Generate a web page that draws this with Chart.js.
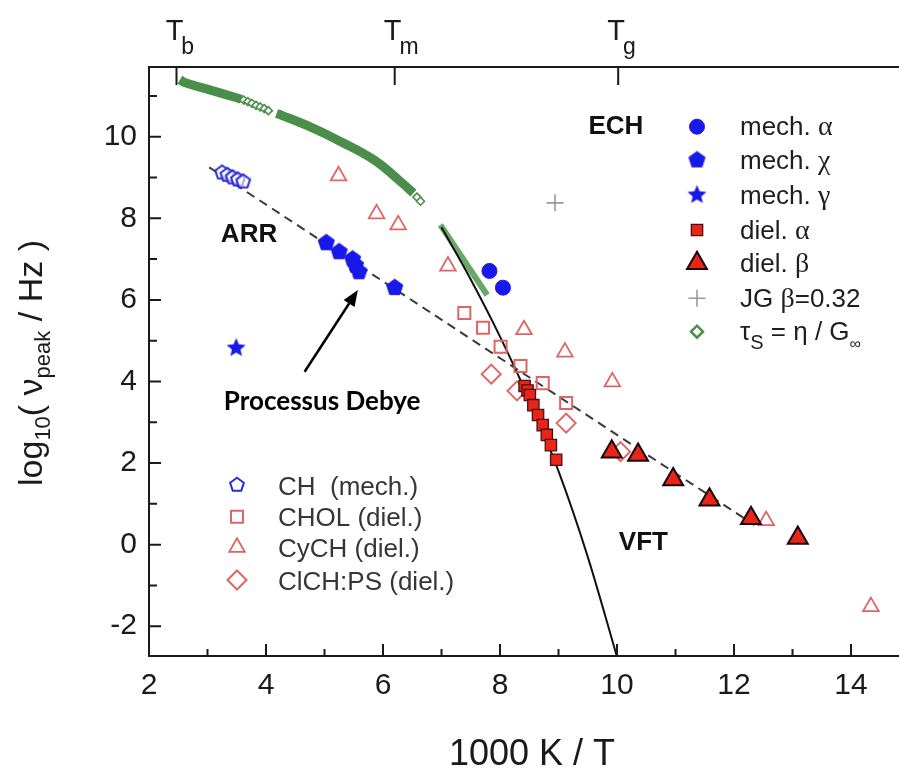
<!DOCTYPE html>
<html>
<head>
<meta charset="utf-8">
<script src="https://cdn.jsdelivr.net/npm/chart.js@4.4.1/dist/chart.umd.min.js"></script>
<style>
  html, body { margin: 0; padding: 0; background: #fff; }
  canvas { display: block; }
</style>
</head>
<body>
<canvas id="grafico" width="899" height="769"></canvas>
<script>
// valores (x = 1000 K / T, y = log10 nu_peak)
const xTicks = [2, 4, 6, 8, 10, 12, 14];
const yTicks = [-2, 0, 2, 4, 6, 8, 10];
const xMinor = [3, 5, 7, 9, 11, 13];
const yMinor = [-1, 1, 3, 5, 7, 9, 11];
const topTicks = [2.47, 6.2, 10.02];
const topLabels = ['b', 'm', 'g'];

const mechAlphaX = [7.82, 8.05];
const mechAlphaY = [6.71, 6.30];
const mechChiX = [5.03, 5.25, 5.48, 5.53, 5.59, 6.20];
const mechChiY = [7.40, 7.18, 7.00, 6.85, 6.69, 6.30];
const mechGammaX = [3.49];
const mechGammaY = [4.82];
const dielAlphaX = [8.42, 8.47, 8.51, 8.57, 8.65, 8.73, 8.80, 8.87, 8.96];
const dielAlphaY = [3.89, 3.78, 3.67, 3.42, 3.18, 2.93, 2.69, 2.44, 2.08];
const dielBetaX = [9.91, 10.36, 10.96, 11.58, 12.29, 13.09];
const dielBetaY = [2.28, 2.20, 1.60, 1.10, 0.65, 0.16];
const jgX = [8.94];
const jgY = [8.38];

const chX = [3.25, 3.34, 3.43, 3.52, 3.61];
const chY = [9.12, 9.06, 9.00, 8.95, 8.90];
const cholX = [7.39, 7.71, 8.01, 8.35, 8.73, 9.13];
const cholY = [5.68, 5.32, 4.85, 4.38, 3.96, 3.47];
const cychX = [5.24, 5.89, 6.26, 7.11, 8.41, 9.11, 9.92, 12.55, 14.34];
const cychY = [9.04, 8.11, 7.84, 6.83, 5.27, 4.72, 3.99, 0.59, -1.52];
const clchX = [7.85, 8.29, 9.13, 10.06];
const clchY = [4.18, 3.77, 2.98, 2.28];

// tau_s = eta / G_inf (banda densa + tramos con marcadores sueltos)
const tauBand1X = [2.53, 2.61, 3.01, 3.30, 3.58];
const tauBand1Y = [11.40, 11.33, 11.16, 11.04, 10.92];
const tauBand2X = [4.18, 4.26, 4.71, 5.28, 5.85, 6.30, 6.52];
const tauBand2Y = [10.57, 10.53, 10.27, 9.88, 9.43, 8.90, 8.62];
const tauBand3X = [6.98, 7.30, 7.78];
const tauBand3Y = [7.84, 7.15, 6.12];
const tauSueltoX = [3.62, 3.69, 3.76, 3.83, 3.90, 3.97, 4.04, 6.58, 6.64];
const tauSueltoY = [10.90, 10.86, 10.82, 10.77, 10.73, 10.69, 10.64, 8.52, 8.42];

// lineas de ajuste
const vftX = [7.0, 7.5, 8.0, 8.5, 9.0, 9.5, 10.01];
const vftY = [7.78, 6.50, 5.10, 3.55, 1.80, -0.30, -2.80];
const arrX = [3.03, 12.35];
const arrY = [9.25, 0.48];

const SANS = '"Liberation Sans", Arial, sans-serif';
const SERIF = '"Liberation Serif", "Times New Roman", serif';
const BLUE = '#1818e8';
const RED = '#ea2418';
const ROSE = '#e06464';
const GREEN = '#4a8e4a';

function pts(xs, ys) {
  return xs.map((x, i) => ({ x: x, y: ys[i] }));
}

function poligono(n, R, inner, fill, stroke, lw) {
  const s = Math.ceil(2 * R + lw + 3);
  const c = document.createElement('canvas');
  c.width = s; c.height = s;
  const g = c.getContext('2d');
  const k = inner ? 2 * n : n;
  g.beginPath();
  for (let i = 0; i < k; i++) {
    const r = inner && i % 2 ? R * inner : R;
    const a = -Math.PI / 2 + i * 2 * Math.PI / k;
    g.lineTo(s / 2 + r * Math.cos(a), s / 2 + r * Math.sin(a));
  }
  g.closePath();
  if (fill) { g.fillStyle = fill; g.fill(); }
  if (stroke) { g.strokeStyle = stroke; g.lineWidth = lw; g.stroke(); }
  return c;
}

const pentLleno = poligono(5, 8.5, 0, BLUE, BLUE, 1);
const pentHueco = poligono(5, 7.2, 0, 'rgba(255,255,255,0.6)', '#2a2ad8', 2);
const estrella = poligono(5, 10, 0.45, BLUE, null, 0);

// estilos de marcador (comunes a datos y leyenda)
const M = {
  mechAlpha: { shape: 'circle', r: 7.5, fill: BLUE, stroke: BLUE, lw: 1 },
  mechChi: { img: pentLleno },
  mechGamma: { img: estrella },
  dielAlpha: { shape: 'rect', r: 8, fill: RED, stroke: '#4a1010', lw: 1.3 },
  dielBeta: { shape: 'triangle', r: 11.5, fill: RED, stroke: '#180808', lw: 2 },
  jg: { shape: 'cross', r: 8.5, fill: null, stroke: '#9a9a9a', lw: 1.6 },
  tau: { shape: 'rectRot', r: 6, fill: '#fff', stroke: GREEN, lw: 2.5 },
  ch: { img: pentHueco },
  chol: { shape: 'rect', r: 8.5, fill: null, stroke: ROSE, lw: 2 },
  cych: { shape: 'triangle', r: 9, fill: null, stroke: ROSE, lw: 1.8 },
  clch: { shape: 'rectRot', r: 9.5, fill: null, stroke: ROSE, lw: 2 }
};

function serie(data, m, order) {
  return {
    data: data,
    order: order,
    showLine: false,
    pointStyle: m.img || m.shape,
    pointRadius: m.img ? 6 : m.r,
    pointHoverRadius: m.img ? 6 : m.r,
    backgroundColor: m.fill || 'rgba(0,0,0,0)',
    borderColor: m.stroke || BLUE,
    borderWidth: m.lw || 0
  };
}

function linea(data, color, width, order, extra) {
  return Object.assign({
    data: data,
    order: order,
    showLine: true,
    pointRadius: 0,
    pointHoverRadius: 0,
    borderColor: color,
    borderWidth: width,
    backgroundColor: color,
    fill: false
  }, extra || {});
}

function marcador(ctx, m, x, y) {
  if (m.img) {
    ctx.drawImage(m.img, x - m.img.width / 2, y - m.img.height / 2);
    return;
  }
  const r = m.r;
  ctx.save();
  ctx.beginPath();
  if (m.shape === 'circle') {
    ctx.arc(x, y, r, 0, 2 * Math.PI);
  } else if (m.shape === 'rect') {
    const h = r * Math.SQRT1_2;
    ctx.rect(x - h, y - h, 2 * h, 2 * h);
  } else if (m.shape === 'triangle') {
    ctx.moveTo(x, y - r);
    ctx.lineTo(x + r * 0.866, y + r * 0.5);
    ctx.lineTo(x - r * 0.866, y + r * 0.5);
    ctx.closePath();
  } else if (m.shape === 'rectRot') {
    ctx.moveTo(x - r, y); ctx.lineTo(x, y - r); ctx.lineTo(x + r, y); ctx.lineTo(x, y + r);
    ctx.closePath();
  } else if (m.shape === 'cross') {
    ctx.moveTo(x, y - r); ctx.lineTo(x, y + r);
    ctx.moveTo(x - r, y); ctx.lineTo(x + r, y);
  }
  if (m.fill) { ctx.fillStyle = m.fill; ctx.fill(); }
  if (m.lw) { ctx.strokeStyle = m.stroke; ctx.lineWidth = m.lw; ctx.stroke(); }
  ctx.restore();
}

function textoRico(ctx, partes, x, y) {
  let cx = x;
  partes.forEach(p => {
    ctx.font = p.f;
    ctx.fillText(p.t, cx, y + (p.dy || 0));
    cx += ctx.measureText(p.t).width;
  });
  return cx - x;
}

function anchoRico(ctx, partes) {
  let w = 0;
  partes.forEach(p => { ctx.font = p.f; w += ctx.measureText(p.t).width; });
  return w;
}

const f26 = '26px ' + SANS;
const g28 = '28px ' + SERIF;
const leyendaDer = [
  { m: M.mechAlpha, y: 126.7, t: [{ t: 'mech. ', f: f26 }, { t: 'α', f: g28 }] },
  { m: M.mechChi, y: 160, t: [{ t: 'mech. ', f: f26 }, { t: 'χ', f: g28 }] },
  { m: M.mechGamma, y: 195, t: [{ t: 'mech. ', f: f26 }, { t: 'γ', f: g28 }] },
  { m: M.dielAlpha, y: 230, t: [{ t: 'diel. ', f: f26 }, { t: 'α', f: g28 }] },
  { m: M.dielBeta, y: 263.3, t: [{ t: 'diel. ', f: f26 }, { t: 'β', f: g28 }] },
  { m: M.jg, y: 298.3, t: [{ t: 'JG ', f: f26 }, { t: 'β', f: g28 }, { t: '=0.32', f: f26 }] },
  { m: M.tau, y: 331.7, t: [{ t: 'τ', f: f26 }, { t: 'S', f: '20px ' + SANS, dy: 9 }, { t: ' = η / G', f: f26 }, { t: '∞', f: '16px ' + SANS, dy: 9 }] }
];
const leyendaIzq = [
  { m: M.ch, y: 485, t: 'CH  (mech.)' },
  { m: M.chol, y: 516.7, t: 'CHOL (diel.)' },
  { m: M.cych, y: 547.3, t: 'CyCH (diel.)' },
  { m: M.clch, y: 580, t: 'ClCH:PS (diel.)' }
];

const notas = {
  id: 'notas',
  afterDraw(chart) {
    const ctx = chart.ctx;
    const a = chart.chartArea;
    const sx = chart.scales.x, sy = chart.scales.y;
    ctx.save();
    ctx.strokeStyle = '#1a1a1a';
    ctx.lineWidth = 2;
    ctx.beginPath();
    xTicks.forEach(v => { const p = sx.getPixelForValue(v); ctx.moveTo(p, a.bottom); ctx.lineTo(p, a.bottom - 12); });
    xMinor.forEach(v => { const p = sx.getPixelForValue(v); ctx.moveTo(p, a.bottom); ctx.lineTo(p, a.bottom - 7); });
    yTicks.forEach(v => { const p = sy.getPixelForValue(v); ctx.moveTo(a.left, p); ctx.lineTo(a.left + 12, p); });
    yMinor.forEach(v => { const p = sy.getPixelForValue(v); ctx.moveTo(a.left, p); ctx.lineTo(a.left + 8, p); });
    topTicks.forEach(v => { const p = sx.getPixelForValue(v); ctx.moveTo(p, a.top); ctx.lineTo(p, a.top + 18); });
    ctx.stroke();

    // etiquetas T_b, T_m, T_g
    ctx.fillStyle = '#1a1a1a';
    ctx.textBaseline = 'alphabetic';
    topTicks.forEach((v, i) => {
      const p = sx.getPixelForValue(v);
      ctx.font = '29px ' + SANS;
      ctx.textAlign = 'center';
      ctx.fillText('T', p - 2, a.top - 27.5);
      const w = ctx.measureText('T').width;
      ctx.textAlign = 'left';
      ctx.font = '23px ' + SANS;
      ctx.fillText(topLabels[i], p - 2 + w / 2 - 2, a.top - 13.5);
    });

    // titulos de ejes
    ctx.textAlign = 'center';
    ctx.font = '36px ' + SANS;
    ctx.fillText('1000 K / T', 532, 765);
    const tituloY = [
      { t: 'log', f: '34px ' + SANS },
      { t: '10', f: '22px ' + SANS, dy: 8 },
      { t: '( ν', f: '34px ' + SANS },
      { t: 'peak', f: '22px ' + SANS, dy: 8 },
      { t: ' / Hz )', f: '34px ' + SANS }
    ];
    ctx.save();
    ctx.translate(41.7, 363);
    ctx.rotate(-Math.PI / 2);
    ctx.textAlign = 'left';
    textoRico(ctx, tituloY, -anchoRico(ctx, tituloY) / 2, 0);
    ctx.restore();

    // textos en coordenadas de datos
    ctx.textAlign = 'center';
    ctx.textBaseline = 'middle';
    ctx.fillStyle = '#111';
    ctx.font = 'bold 26px ' + SANS;
    ctx.fillText('ECH', sx.getPixelForValue(9.98), sy.getPixelForValue(10.24));
    ctx.fillText('ARR', sx.getPixelForValue(3.71), sy.getPixelForValue(7.59));
    ctx.fillText('VFT', sx.getPixelForValue(10.45), sy.getPixelForValue(0.05));
    ctx.font = 'bold 26px Lato, ' + SANS;
    ctx.fillStyle = '#000';
    ctx.fillText('Processus Debye', sx.getPixelForValue(4.96), sy.getPixelForValue(3.50));

    // flecha
    const x0 = sx.getPixelForValue(4.66), y0 = sy.getPixelForValue(4.24);
    const x1 = sx.getPixelForValue(5.57), y1 = sy.getPixelForValue(6.24);
    const ang = Math.atan2(y1 - y0, x1 - x0);
    const L = 16, W = 6.5;
    ctx.strokeStyle = '#000';
    ctx.lineWidth = 2.5;
    ctx.beginPath();
    ctx.moveTo(x0, y0);
    ctx.lineTo(x1 - L * Math.cos(ang), y1 - L * Math.sin(ang));
    ctx.stroke();
    ctx.fillStyle = '#000';
    ctx.beginPath();
    ctx.moveTo(x1, y1);
    ctx.lineTo(x1 - L * Math.cos(ang) + W * Math.sin(ang), y1 - L * Math.sin(ang) - W * Math.cos(ang));
    ctx.lineTo(x1 - L * Math.cos(ang) - W * Math.sin(ang), y1 - L * Math.sin(ang) + W * Math.cos(ang));
    ctx.closePath();
    ctx.fill();

    // leyendas
    ctx.textAlign = 'left';
    ctx.textBaseline = 'alphabetic';
    leyendaDer.forEach(e => {
      marcador(ctx, e.m, 697, e.y);
      ctx.fillStyle = '#1e1e1e';
      textoRico(ctx, e.t, 740, e.y + 8.5);
    });
    leyendaIzq.forEach(e => {
      marcador(ctx, e.m, 237, e.y);
      ctx.fillStyle = '#363636';
      ctx.font = f26;
      ctx.fillText(e.t, 278, e.y + 9.5);
    });
    ctx.restore();
  }
};

const ejeTexto = { family: SANS, size: 30 };

function sinRelleno(s) {
  s.paddingLeft = 0; s.paddingRight = 0; s.paddingTop = 0; s.paddingBottom = 0;
}

new Chart(document.getElementById('grafico'), {
  type: 'scatter',
  data: {
    datasets: [
      linea(pts(tauBand1X, tauBand1Y), GREEN, 9, 20, { tension: 0.4, borderCapStyle: 'butt' }),
      linea(pts(tauBand2X, tauBand2Y), GREEN, 9, 20, { tension: 0.4, borderCapStyle: 'butt' }),
      linea(pts(tauBand3X, tauBand3Y), '#6aa86a', 6, 20, { tension: 0.3, borderCapStyle: 'butt' }),
      serie(pts(tauSueltoX, tauSueltoY), { shape: 'rectRot', r: 4, fill: '#fff', stroke: GREEN, lw: 1.6 }, 19),
      linea(pts(vftX, vftY), '#111', 2, 18, { cubicInterpolationMode: 'monotone' }),
      linea(pts(arrX, arrY), '#3a3a3a', 2, 17, { borderDash: [9, 6] }),
      serie(pts(clchX, clchY), M.clch, 12),
      serie(pts(cholX, cholY), M.chol, 11),
      serie(pts(cychX, cychY), M.cych, 10),
      serie(pts(jgX, jgY), M.jg, 9),
      serie(pts(dielAlphaX, dielAlphaY), M.dielAlpha, 6),
      serie(pts(dielBetaX, dielBetaY), M.dielBeta, 5),
      serie(pts(mechChiX, mechChiY), M.mechChi, 4),
      serie(pts(chX, chY), M.ch, 3),
      serie(pts(mechAlphaX, mechAlphaY), M.mechAlpha, 2),
      serie(pts(mechGammaX, mechGammaY), M.mechGamma, 1)
    ]
  },
  options: {
    responsive: false,
    animation: false,
    devicePixelRatio: 1,
    layout: { padding: 0, autoPadding: false },
    plugins: { legend: { display: false }, tooltip: { enabled: false } },
    scales: {
      x: {
        type: 'linear', position: 'bottom', min: 2, max: 14.82,
        afterBuildTicks: s => { s.ticks = xTicks.map(v => ({ value: v })); },
        afterFit: s => { s.height = 113; sinRelleno(s); },
        ticks: { font: ejeTexto, color: '#1a1a1a', padding: 12, maxRotation: 0, autoSkip: false },
        grid: { drawOnChartArea: false, drawTicks: false },
        border: { color: '#1a1a1a', width: 2 }
      },
      x2: {
        type: 'linear', position: 'top', min: 2, max: 14.82,
        afterFit: s => { s.height = 67; sinRelleno(s); },
        ticks: { display: false },
        grid: { drawOnChartArea: false, drawTicks: false },
        border: { color: '#1a1a1a', width: 2 }
      },
      y: {
        type: 'linear', position: 'left', min: -2.73, max: 11.71,
        afterBuildTicks: s => { s.ticks = yTicks.map(v => ({ value: v })); },
        afterFit: s => { s.width = 149; sinRelleno(s); },
        ticks: { font: ejeTexto, color: '#1a1a1a', padding: 12, autoSkip: false },
        grid: { drawOnChartArea: false, drawTicks: false },
        border: { color: '#1a1a1a', width: 2 }
      }
    }
  },
  plugins: [notas]
});
</script>
</body>
</html>
